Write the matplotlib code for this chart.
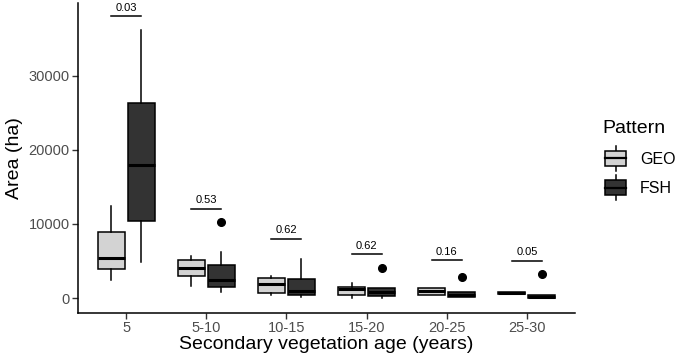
import matplotlib
matplotlib.use("Agg")
import matplotlib.pyplot as plt
from matplotlib.legend_handler import HandlerBase
from matplotlib.patches import Rectangle
from matplotlib.lines import Line2D
import numpy as np

plt.rcParams['font.family'] = ['Liberation Sans', 'DejaVu Sans']

categories = ["5", "5-10", "10-15", "15-20", "20-25", "25-30"]
patterns = ["GEO", "FSH"]
colors = {"GEO": "#D3D3D3", "FSH": "#333333"}

# box statistics per pattern: lower whisker, Q1, median, Q3, upper whisker
geo_whislo = [2400, 1600, 400, 0, 400, 500]
geo_q1 = [3900, 3000, 700, 400, 400, 500]
geo_med = [5400, 4100, 1900, 1200, 950, 700]
geo_q3 = [8900, 5100, 2700, 1500, 1300, 850]
geo_whishi = [12400, 5700, 3000, 2000, 1300, 850]
geo_fliers = [[], [], [], [], [], []]

fsh_whislo = [4900, 800, 200, 0, 200, 0]
fsh_q1 = [10400, 1500, 400, 250, 200, 0]
fsh_med = [18000, 2400, 1000, 850, 450, 150]
fsh_q3 = [26300, 4500, 2600, 1300, 750, 400]
fsh_whishi = [36200, 6200, 5300, 1300, 750, 400]
fsh_fliers = [[], [10300], [], [4100], [2900], [3300]]

p_values = ["0.03", "0.53", "0.62", "0.62", "0.16", "0.05"]
p_heights = [38000, 12000, 8000, 5900, 5100, 5000]

fig = plt.figure(figsize=(6.78, 3.63), dpi=100)
ax = fig.add_axes([78/678, 1-312.7/363, (575-78)/678, (312.7-3)/363])

x = np.arange(len(categories))
offset = 0.1875
bw = 0.3375

def stats(whislo, q1, med, q3, whishi, fliers):
    return [dict(whislo=a, q1=b, med=c, q3=d, whishi=e, fliers=f)
            for a, b, c, d, e, f in zip(whislo, q1, med, q3, whishi, fliers)]

series = {
    "GEO": stats(geo_whislo, geo_q1, geo_med, geo_q3, geo_whishi, geo_fliers),
    "FSH": stats(fsh_whislo, fsh_q1, fsh_med, fsh_q3, fsh_whishi, fsh_fliers),
}

for i, pat in enumerate(patterns):
    pos = x + (-offset if i == 0 else offset)
    ax.bxp(series[pat], positions=pos, widths=bw, patch_artist=True,
           showcaps=False,
           boxprops=dict(facecolor=colors[pat], edgecolor="black", linewidth=1.1),
           medianprops=dict(color="black", linewidth=2.2, solid_capstyle="butt"),
           whiskerprops=dict(color="black", linewidth=1.1),
           flierprops=dict(marker="o", markerfacecolor="black", markeredgecolor="black",
                           markersize=5.5))

for xi, p, h in zip(x, p_values, p_heights):
    ax.plot([xi - offset, xi + offset], [h, h], color="black", lw=1.1)
    ax.text(xi, h + 500, p, ha="center", va="bottom", fontsize=8, color="black")

ax.set_xlim(-0.6, len(categories) - 0.4)
ax.set_ylim(-1980, 39800)
ax.set_xticks(x)
ax.set_xticklabels(categories)
ax.set_yticks([0, 10000, 20000, 30000])
ax.set_yticklabels(["0", "10000", "20000", "30000"])
ax.tick_params(axis="both", labelsize=10.5, labelcolor="#4D4D4D", color="#333333",
               length=4, width=1.0, pad=2)
for s in ["top", "right"]:
    ax.spines[s].set_visible(False)
for s in ["left", "bottom"]:
    ax.spines[s].set_linewidth(1.1)
ax.set_xlabel("Secondary vegetation age (years)", fontsize=14, labelpad=1)
ax.set_ylabel("Area (ha)", fontsize=14, labelpad=4)


class BoxHandler(HandlerBase):
    def __init__(self, color):
        super().__init__()
        self.color = color

    def create_artists(self, legend, orig_handle, xdescent, ydescent, width, height,
                       fontsize, trans):
        x0 = -xdescent + 2
        cx = x0 + width / 2
        bh = height * 0.95
        by = -ydescent + (height - bh) / 2
        arts = []
        arts.append(Line2D([cx, cx], [-ydescent - height * 0.25, -ydescent + height * 1.25],
                           color="black", lw=1.1, transform=trans))
        arts.append(Rectangle((x0, by), width, bh, facecolor=self.color,
                              edgecolor="black", lw=1.1, transform=trans))
        arts.append(Line2D([x0, x0 + width], [by + bh / 2, by + bh / 2],
                           color="black", lw=1.6, transform=trans))
        return arts


h_geo = Rectangle((0, 0), 1, 1)
h_fsh = Line2D([], [])
leg = fig.legend([h_geo, h_fsh], patterns, title="Pattern",
                 handler_map={h_geo: BoxHandler(colors["GEO"]), h_fsh: BoxHandler(colors["FSH"])},
                 loc="upper left", bbox_to_anchor=(588/678, 1 - 106/363),
                 frameon=False, fontsize=11.5, title_fontsize=14,
                 handlelength=1.3, handleheight=1.2, handletextpad=1.05,
                 labelspacing=0.8, alignment="left")

fig.savefig("out.png", dpi=100)
